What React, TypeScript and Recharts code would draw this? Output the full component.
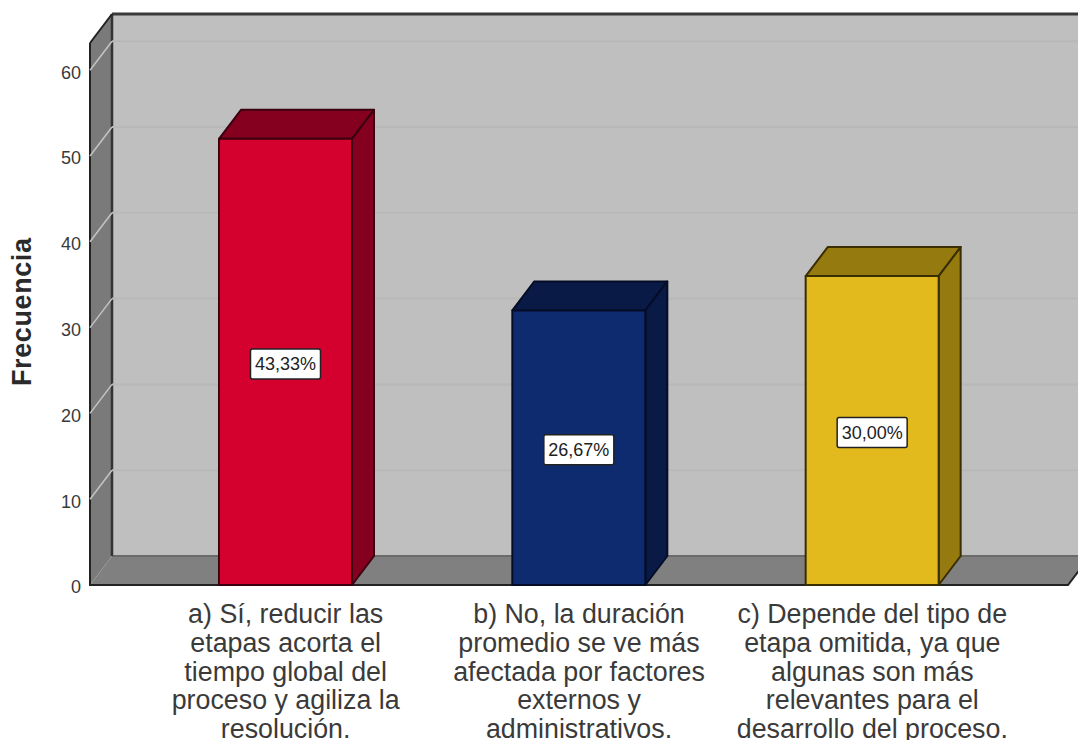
import React from 'react';
import { Bar, BarChart, LabelList, ReferenceLine, XAxis, YAxis, usePlotArea } from 'recharts';

const categories = [
  'a) Sí, reducir las\netapas acorta el\ntiempo global del\nproceso y agiliza la\nresolución.',
  'b) No, la duración\npromedio se ve más\nafectada por factores\nexternos y\nadministrativos.',
  'c) Depende del tipo de\netapa omitida, ya que\nalgunas son más\nrelevantes para el\ndesarrollo del proceso.',
];
const frecuencia = [52, 32, 36];
const porcentajes = ['43,33%', '26,67%', '30,00%'];
const yTicks = [0, 10, 20, 30, 40, 50, 60];
const gridTicks = [10, 20, 30, 40, 50, 60];

const frontColors = ['#D4002E', '#0F2B6F', '#E2BA1E'];
const sideColors = ['#85001F', '#0A1A47', '#957A10'];
const edgeColors = ['#3A0010', '#050D26', '#3A2E00'];

const data = categories.map((name, i) => ({ name, total: frecuencia[i], pct: porcentajes[i] }));

const DX = 22;
const DY = 29;
const FONT = '"Liberation Sans", Arial, sans-serif';

const Walls = () => {
  const plot = usePlotArea();
  if (!plot) return null;
  const { x, y, width, height } = plot;
  const r = x + width;
  const b = y + height;
  return (
    <g>
      <polygon points={`${x + DX},${y - DY} ${r + DX},${y - DY} ${r + DX},${b - DY} ${x + DX},${b - DY}`} fill="#BFBFBF" />
      <polygon points={`${x},${y} ${x + DX},${y - DY} ${x + DX},${b - DY} ${x},${b}`} fill="#7A7A7A" />
      <polygon points={`${x},${b} ${x + DX},${b - DY} ${r + DX},${b - DY} ${r},${b}`} fill="#808080" />
      <line x1={x + DX} y1={y - DY} x2={r + DX} y2={y - DY} stroke="#3A3A3A" strokeWidth={3} />
      <line x1={x + DX} y1={b - DY} x2={r + DX} y2={b - DY} stroke="#6A6A6A" strokeWidth={2} />
      <line x1={x + DX} y1={y - DY} x2={x + DX} y2={b - DY} stroke="#333" strokeWidth={2.5} />
      <line x1={x} y1={y} x2={x + DX} y2={y - DY} stroke="#222" strokeWidth={2} />
      <polyline points={`${x},${y} ${x},${b} ${r},${b} ${r + DX},${b - DY}`} fill="none" stroke="#222" strokeWidth={2} />
    </g>
  );
};

const GridLine = (props: any) => {
  const { x1, x2, y1 } = props;
  return (
    <g>
      <line x1={x1} y1={y1} x2={x1 + DX} y2={y1 - DY} stroke="#C4C4C4" strokeWidth={1.5} />
      <line x1={x1 + DX} y1={y1 - DY} x2={x2 + DX} y2={y1 - DY} stroke="#B8B8B8" strokeWidth={2} />
    </g>
  );
};

const Box3D = (props: any) => {
  const { x, y, width, height, index } = props;
  const edge = edgeColors[index];
  const r = x + width;
  const b = y + height;
  return (
    <g stroke={edge} strokeWidth={2} strokeLinejoin="round">
      <polygon points={`${x},${y} ${x + DX},${y - DY} ${r + DX},${y - DY} ${r},${y}`} fill={sideColors[index]} />
      <polygon points={`${r},${y} ${r + DX},${y - DY} ${r + DX},${b - DY} ${r},${b}`} fill={sideColors[index]} />
      <rect x={x} y={y} width={width} height={height} fill={frontColors[index]} />
    </g>
  );
};

const PctLabel = (props: any) => {
  const { x, y, width, height, value } = props;
  const cx = x + width / 2;
  const cy = y + height / 2 + 2;
  return (
    <g>
      <rect x={cx - 35} y={cy - 15} width={70} height={30} rx={2} fill="#fff" stroke="#222" strokeWidth={1.5} />
      <text x={cx} y={cy + 6} textAnchor="middle" fontFamily={FONT} fontSize={18} fill="#222">
        {value}
      </text>
    </g>
  );
};

const CategoryTick = (props: any) => {
  const { x, payload } = props;
  const lines = String(payload.value).split('\n');
  return (
    <text textAnchor="middle" fontFamily={FONT} fontSize={26.8} fill="#3A3A3A">
      {lines.map((line, i) => (
        <tspan key={i} x={x} y={623 + i * 28.75}>
          {line}
        </tspan>
      ))}
    </text>
  );
};

const App = () => {
  return (
    <div style={{ position: 'absolute', left: 0, top: 0, width: 1078, height: 740, overflow: 'hidden' }}>
      <BarChart
        width={1078}
        height={740}
        data={data}
        margin={{ top: 43, right: 10, bottom: 0, left: 0 }}
      >
        <Walls />
        {gridTicks.map((t) => (
          <ReferenceLine key={t} y={t} shape={GridLine as any} zIndex={100} />
        ))}
        <XAxis
          dataKey="name"
          axisLine={false}
          tickLine={false}
          interval={0}
          height={155}
          padding={{ left: 49, right: 49 }}
          tick={CategoryTick as any}
        />
        <YAxis
          width={90}
          domain={[0, 63.17]}
          ticks={yTicks}
          axisLine={false}
          tickLine={false}
          tick={{ fill: '#3A3A3A', fontSize: 18, fontFamily: FONT, dy: 2 }}
          tickMargin={3}
          label={{
            value: 'Frecuencia',
            angle: -90,
            position: 'insideLeft',
            dx: 16,
            dy: 72,
            style: { fontFamily: FONT, fontSize: 27, fontWeight: 'bold', fill: '#2A2A2A', letterSpacing: 0.6 },
          }}
        />
        <Bar dataKey="total" barSize={133} shape={Box3D as any} isAnimationActive={false}>
          <LabelList dataKey="pct" content={PctLabel as any} />
        </Bar>
      </BarChart>
    </div>
  );
};

export default App;
